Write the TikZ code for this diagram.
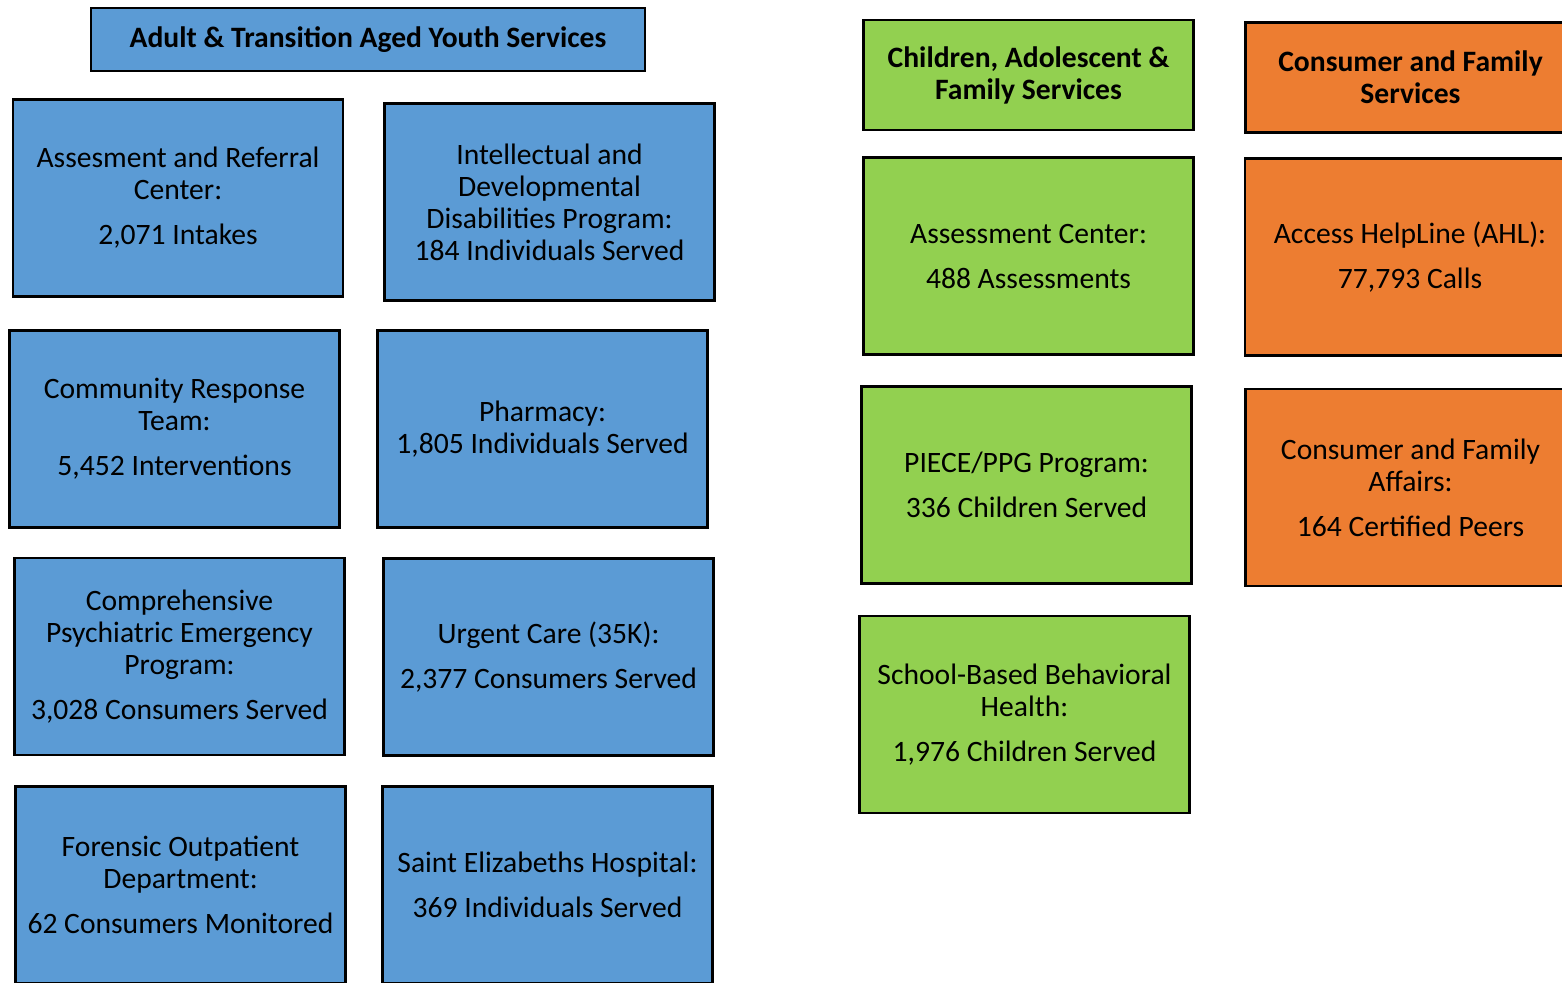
\documentclass[tikz,border=0pt]{standalone}
\usepackage{fontspec}
\setmainfont{Carlito}
\usetikzlibrary{positioning}
\definecolor{svcblue}{HTML}{5B9BD5}
\definecolor{svcgreen}{HTML}{92D050}
\definecolor{svcorange}{HTML}{ED7D31}
\tikzset{
  svcbox/.style={
    draw=black,
    line width=1.2pt,
    align=center,
    anchor=center,
    inner sep=0pt,
    minimum width=165pt,
    minimum height=98.5pt,
    font=\fontsize{14.8}{16}\selectfont,
  },
  svchead/.style={
    svcbox,
    minimum height=55pt,
    font=\fontsize{14.8}{16}\selectfont\bfseries,
  },
}

\begin{document}
\begin{tikzpicture}[x=0.5pt,y=-0.5pt]
  \useasboundingbox (0,0) rectangle (1562,982);
  \begin{scope}[every node/.style={svcbox,fill=svcblue}]
    \node[svchead,minimum width=277pt,minimum height=31.5pt]
      (adult) at (368,39.5) {Adult \& Transition Aged Youth Services};
    \node (arc)      at (178,198)   {Assesment and Referral\\Center:\\[6.5pt]2,071 Intakes};
    \node (idd)      at (549.5,202) {Intellectual and\\Developmental\\Disabilities Program:\\184 Individuals Served};
    \node (crt)      at (174.5,429) {Community Response\\Team:\\[6.5pt]5,452 Interventions};
    \node (pharm)    at (542.5,429) {Pharmacy:\\1,805 Individuals Served};
    \node (cpep)     at (179.5,656.5) {Comprehensive\\Psychiatric Emergency\\Program:\\[6.5pt]3,028 Consumers Served};
    \node (urgent)   at (548.5,657) {Urgent Care (35K):\\[6.5pt]2,377 Consumers Served};
    \node (forensic) at (180.5,885) {Forensic Outpatient\\Department:\\[6.5pt]62 Consumers Monitored};
    \node (seh)      at (547.5,885) {Saint Elizabeths Hospital:\\[6.5pt]369 Individuals Served};
  \end{scope}
  \begin{scope}[every node/.style={svcbox,fill=svcgreen}]
    \node[svchead] (child) at (1028.5,75) {Children, Adolescent \&\\Family Services};
    \node (assess) at (1028.5,256)   {Assessment Center:\\[6.5pt]488 Assessments};
    \node (piece)  at (1026.5,485)   {PIECE/PPG Program:\\[6.5pt]336 Children Served};
    \node (school) at (1024.5,714.5) {School-Based Behavioral\\Health:\\[6.5pt]1,976 Children Served};
  \end{scope}
  \begin{scope}[every node/.style={svcbox,fill=svcorange}]
    \node[svchead] (cfs) at (1410.5,77.5) {Consumer and Family\\Services};
    \node (ahl) at (1410,257)   {Access HelpLine (AHL):\\[6.5pt]77,793 Calls};
    \node (cfa) at (1410.5,487.5) {Consumer and Family\\Affairs:\\[6.5pt]164 Certified Peers};
  \end{scope}
\end{tikzpicture}
\end{document}
